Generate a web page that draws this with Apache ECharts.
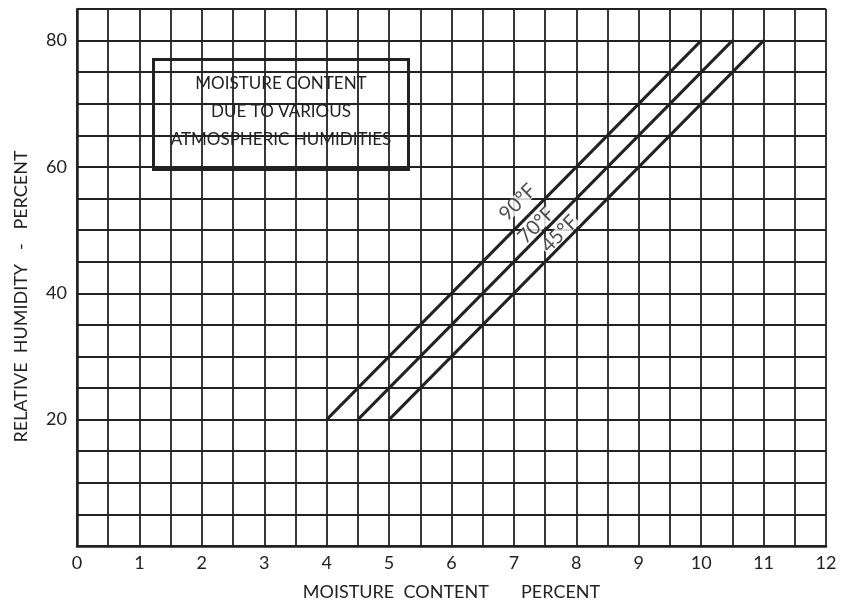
<!DOCTYPE html>
<html>
<head>
<meta charset="utf-8">
<title>Moisture content</title>
<script src="https://cdn.jsdelivr.net/npm/echarts@6/dist/echarts.min.js"></script>
<style>
  html, body { margin: 0; padding: 0; background: #fff; }
  #chart { width: 842px; height: 609px; }
</style>
</head>
<body>
<div id="chart"></div>
<script>
// 温度曲线 (moisture %, relative humidity %)
var line90 = [[4, 20], [10, 80]];
var line70 = [[4.5, 20], [10.5, 80]];
var line45 = [[5, 20], [11, 80]];
var curveNames = ['90°F', '70°F', '45°F'];
// where each curve name sits
var curveLabelAt = [[7.06, 54.4], [7.36, 50.8], [7.73, 49.4]];
var yTickLabels = [20, 40, 60, 80];
var boxLines = ['MOISTURE CONTENT', 'DUE TO VARIOUS', 'ATMOSPHERIC HUMIDITIES'];

var ink = '#222';
var font = 'Lato';

var dom = document.getElementById('chart');
var chart = echarts.init(dom);

var labelData = curveLabelAt.map(function (p, i) {
    return { value: p, name: curveNames[i] };
});

var lineSeries = function (name, data) {
    return {
        name: name,
        type: 'line',
        data: data,
        symbol: 'none',
        lineStyle: { color: ink, width: 3 },
        z: 5
    };
};

var option = {
    animation: false,
    grid: { left: 77, right: 16, top: 9, bottom: 63 },
    xAxis: {
        type: 'value',
        min: 0,
        max: 12,
        interval: 0.5,
        name: 'MOISTURE  CONTENT       PERCENT',
        nameLocation: 'middle',
        nameGap: 37,
        nameTextStyle: { color: ink, fontSize: 18, fontFamily: font },
        axisLine: { show: true, lineStyle: { color: ink, width: 2.5 } },
        axisTick: { show: false },
        axisLabel: {
            margin: 8,
            color: ink,
            fontSize: 18,
            fontFamily: font,
            formatter: function (v) { return v % 1 === 0 ? String(v) : ''; }
        },
        splitLine: { show: true, lineStyle: { color: ink, width: 1.8 } }
    },
    yAxis: {
        type: 'value',
        min: 0,
        max: 85,
        interval: 5,
        name: 'RELATIVE  HUMIDITY   -   PERCENT',
        nameLocation: 'middle',
        nameGap: 47,
        nameTextStyle: { color: ink, fontSize: 18, fontFamily: font, padding: [0, 38, 0, 0] },
        axisLine: { show: true, lineStyle: { color: ink, width: 2.5 } },
        axisTick: { show: false },
        axisLabel: {
            margin: 10,
            color: ink,
            fontSize: 18,
            fontFamily: font,
            formatter: function (v) { return yTickLabels.indexOf(v) >= 0 ? String(v) : ''; }
        },
        splitLine: { show: true, lineStyle: { color: ink, width: 1.8 } }
    },
    series: [
        lineSeries('90°F', line90),
        lineSeries('70°F', line70),
        lineSeries('45°F', line45),
        {
            name: 'labels',
            type: 'scatter',
            data: labelData,
            symbolSize: 0,
            z: 6,
            label: {
                show: true,
                position: 'inside',
                rotate: 45,
                formatter: '{b}',
                color: ink,
                fontSize: 20,
                lineHeight: 15,
                fontFamily: font,
                backgroundColor: '#fff',
                padding: [0, 1]
            }
        }
    ],
    graphic: [{
        type: 'group',
        left: 152,
        top: 58,
        z: 10,
        children: [{
            type: 'rect',
            shape: { x: 0, y: 0, width: 255, height: 110 },
            style: { fill: '#fff', stroke: ink, lineWidth: 3 }
        }].concat(boxLines.map(function (t, i) {
            return {
                type: 'text',
                x: 127.5,
                y: 24 + i * 28,
                style: {
                    text: t,
                    fill: ink,
                    font: '17px ' + font,
                    align: 'center',
                    verticalAlign: 'middle'
                }
            };
        }))
    }]
};

chart.setOption(option);
</script>
</body>
</html>
